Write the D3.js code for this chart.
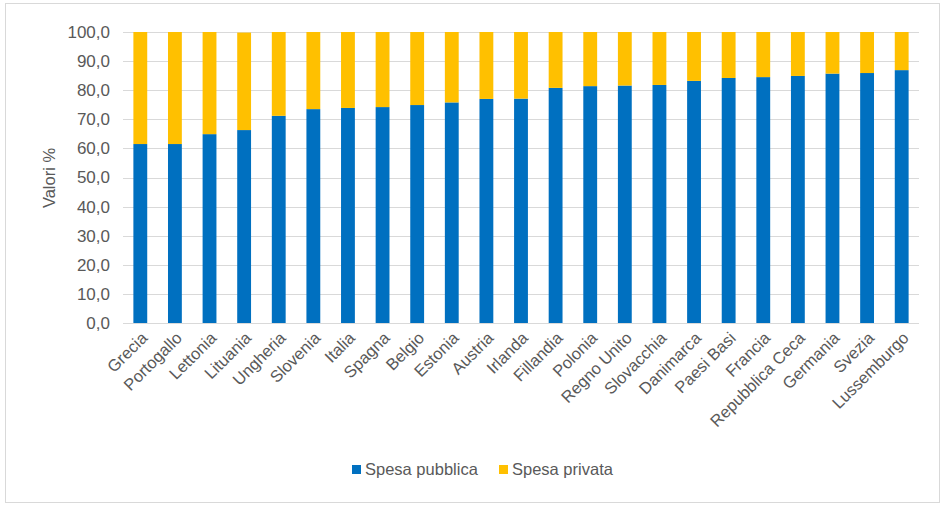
<!DOCTYPE html>
<html><head><meta charset="utf-8">
<script src="https://cdn.jsdelivr.net/npm/d3@7"></script>
<style>body{margin:0;background:#fff}svg{display:block;font-family:"Liberation Sans",Arial,Helvetica,sans-serif}</style>
</head><body><svg id="c" width="946" height="505"></svg>
<script>
const categories = ["Grecia","Portogallo","Lettonia","Lituania","Ungheria","Slovenia","Italia","Spagna","Belgio","Estonia","Austria","Irlanda","Fillandia","Polonia","Regno Unito","Slovacchia","Danimarca","Paesi Basi","Francia","Repubblica Ceca","Germania","Svezia","Lussemburgo"];
const spesaPubblica = [61.5,61.5,64.9,66.3,71.2,73.5,73.9,74.2,74.9,75.8,77.0,77.1,80.8,81.4,81.6,81.8,83.2,84.2,84.5,84.9,85.7,85.9,86.9];
const spesaPrivata = [38.5,38.5,35.1,33.5,28.8,26.5,26.1,25.8,25.1,24.2,23.0,22.9,19.2,18.6,18.4,18.2,16.8,15.8,15.5,15.1,14.3,14.1,13.1];
const yTicks = [0,10,20,30,40,50,60,70,80,90,100];
const seriesNames = ["Spesa pubblica","Spesa privata"];
const colors = ["#0070C0","#FFC000"];

const svg = d3.select("#c");
const txt = "#595959";
svg.append("rect").attr("x",5.5).attr("y",3.5).attr("width",934).attr("height",499).attr("fill","#fff").attr("stroke","#d9d9d9");

const x = d3.scaleBand().domain(categories).range([123,919]).paddingInner(0.6).paddingOuter(0.3);
const y = d3.scaleLinear().domain([0,100]).range([323,32]);

svg.append("g").selectAll("line").data(yTicks).join("line")
  .attr("x1",123).attr("x2",919).attr("y1",d=>Math.round(y(d))+0.5).attr("y2",d=>Math.round(y(d))+0.5)
  .attr("stroke","#d9d9d9").attr("stroke-width",1);

const fmt = d=>d3.format(".1f")(d).replace(".",",");
const yAxis = svg.append("g").attr("transform","translate(123,0)")
  .call(d3.axisLeft(y).tickValues(yTicks).tickFormat(fmt).tickSize(0).tickPadding(13));
yAxis.select(".domain").remove();
yAxis.selectAll("text").attr("fill",txt).style("font-size","17px");

const stacked = categories.map((c,i)=>({c, a:spesaPubblica[i], b:spesaPrivata[i]}));
svg.append("g").selectAll("rect").data(stacked).join("rect")
  .attr("x",d=>x(d.c)).attr("width",x.bandwidth())
  .attr("y",d=>y(d.a)).attr("height",d=>y(0)-y(d.a)).attr("fill",colors[0]);
svg.append("g").selectAll("rect").data(stacked).join("rect")
  .attr("x",d=>x(d.c)).attr("width",x.bandwidth())
  .attr("y",d=>y(d.a+d.b)).attr("height",d=>y(d.a)-y(d.a+d.b)).attr("fill",colors[1]);

svg.append("line").attr("x1",123).attr("x2",919).attr("y1",323.5).attr("y2",323.5).attr("stroke","#d9d9d9");

svg.append("g").selectAll("text").data(categories).join("text")
  .attr("transform",d=>`translate(${x(d)+x.bandwidth()/2+4},${335}) rotate(-45)`)
  .attr("text-anchor","end").attr("dy","0.35em")
  .attr("fill",txt).style("font-size","16.5px").text(d=>d);

svg.append("text").attr("transform","translate(55,178) rotate(-90)")
  .attr("text-anchor","middle").attr("fill",txt).style("font-size","16.5px").text("Valori %");

const leg = svg.append("g");
const legX = [352,499];
seriesNames.forEach((n,i)=>{
  leg.append("rect").attr("x",legX[i]).attr("y",465).attr("width",9).attr("height",9).attr("fill",colors[i]);
  leg.append("text").attr("x",legX[i]+13).attr("y",475).attr("fill",txt).style("font-size","16.5px").text(n);
});
</script></body></html>
